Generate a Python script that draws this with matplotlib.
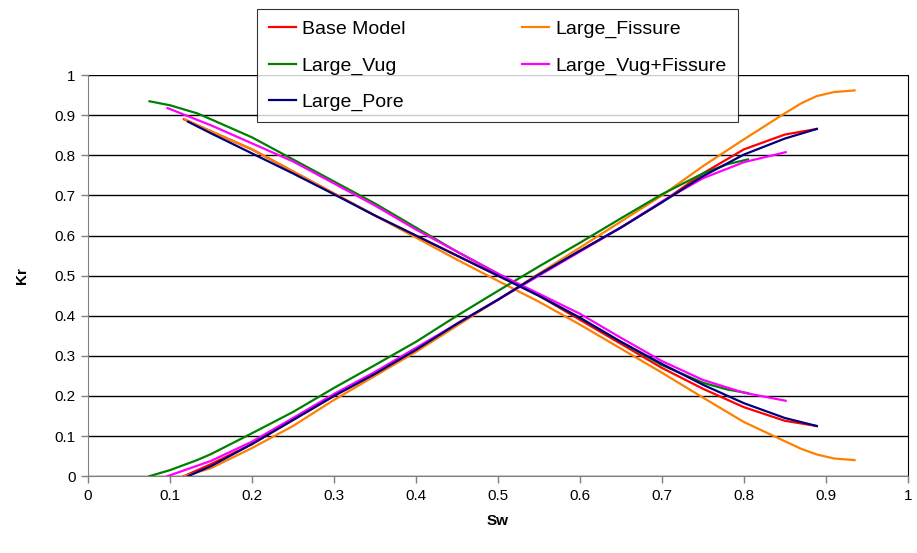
import matplotlib
matplotlib.use("Agg")
import matplotlib.pyplot as plt

plt.rcParams['font.family'] = ['Liberation Sans', 'DejaVu Sans']

# Base Model
sw_base = [0.117, 0.15, 0.2, 0.25, 0.3, 0.35, 0.4, 0.45, 0.5, 0.55, 0.6, 0.65, 0.7, 0.75, 0.8, 0.85, 0.889]
krw_base = [0, 0.03, 0.08, 0.14, 0.2, 0.255, 0.315, 0.38, 0.44, 0.503, 0.562, 0.62, 0.683, 0.755, 0.815, 0.852, 0.866]
kro_base = [0.89, 0.86, 0.815, 0.76, 0.705, 0.65, 0.6, 0.55, 0.5, 0.45, 0.39, 0.33, 0.27, 0.218, 0.172, 0.138, 0.125]

# Large_Fissure
sw_fis = [0.118, 0.15, 0.2, 0.25, 0.3, 0.35, 0.4, 0.45, 0.5, 0.55, 0.6, 0.65, 0.7, 0.75, 0.8, 0.85, 0.87, 0.889, 0.91, 0.935]
krw_fis = [0, 0.02, 0.07, 0.125, 0.19, 0.25, 0.31, 0.375, 0.44, 0.505, 0.57, 0.635, 0.7, 0.773, 0.84, 0.905, 0.93, 0.948, 0.958, 0.962]
kro_fis = [0.89, 0.86, 0.815, 0.76, 0.705, 0.65, 0.595, 0.54, 0.487, 0.435, 0.378, 0.318, 0.258, 0.196, 0.135, 0.087, 0.068, 0.054, 0.044, 0.04]

# Large_Vug
sw_vug = [0.075, 0.1, 0.133, 0.15, 0.2, 0.25, 0.3, 0.35, 0.4, 0.45, 0.5, 0.55, 0.6, 0.65, 0.7, 0.75, 0.78, 0.805]
krw_vug = [0, 0.015, 0.04, 0.055, 0.107, 0.16, 0.22, 0.277, 0.335, 0.4, 0.462, 0.523, 0.582, 0.643, 0.703, 0.755, 0.778, 0.79]
kro_vug = [0.935, 0.925, 0.905, 0.89, 0.845, 0.79, 0.735, 0.68, 0.62, 0.56, 0.505, 0.45, 0.395, 0.335, 0.277, 0.233, 0.216, 0.207]

# Large_Vug+Fissure
sw_vf = [0.097, 0.15, 0.2, 0.25, 0.3, 0.35, 0.4, 0.45, 0.5, 0.55, 0.6, 0.65, 0.7, 0.75, 0.8, 0.851]
krw_vf = [0, 0.038, 0.086, 0.145, 0.205, 0.26, 0.32, 0.38, 0.44, 0.5, 0.56, 0.62, 0.685, 0.743, 0.783, 0.808]
kro_vf = [0.918, 0.875, 0.83, 0.785, 0.73, 0.675, 0.615, 0.56, 0.505, 0.455, 0.405, 0.345, 0.287, 0.24, 0.208, 0.188]

# Large_Pore
sw_pore = [0.122, 0.15, 0.2, 0.25, 0.3, 0.35, 0.4, 0.45, 0.5, 0.55, 0.6, 0.65, 0.7, 0.75, 0.8, 0.85, 0.889]
krw_pore = [0, 0.025, 0.08, 0.14, 0.2, 0.255, 0.315, 0.38, 0.44, 0.503, 0.562, 0.62, 0.683, 0.748, 0.802, 0.842, 0.866]
kro_pore = [0.884, 0.855, 0.805, 0.755, 0.703, 0.65, 0.6, 0.55, 0.5, 0.45, 0.395, 0.335, 0.28, 0.228, 0.182, 0.145, 0.125]

ticks = [0, 0.1, 0.2, 0.3, 0.4, 0.5, 0.6, 0.7, 0.8, 0.9, 1]
tick_labels = ['0', '0.1', '0.2', '0.3', '0.4', '0.5', '0.6', '0.7', '0.8', '0.9', '1']

fig = plt.figure(figsize=(9.17, 5.53), dpi=100)
ax = fig.add_axes([0.096, 0.139, 0.894, 0.725])

series = [
    ("Base Model", sw_base, krw_base, kro_base, "#ff0000"),
    ("Large_Vug", sw_vug, krw_vug, kro_vug, "#008000"),
    ("Large_Pore", sw_pore, krw_pore, kro_pore, "#000080"),
    ("Large_Fissure", sw_fis, krw_fis, kro_fis, "#ff8000"),
    ("Large_Vug+Fissure", sw_vf, krw_vf, kro_vf, "#ff00ff"),
]
# excel drawing order: base, fissure, vug, v+f, pore
order = [0, 3, 1, 4, 2]
handles = {}
for i in order:
    name, sw, krw, kro, c = series[i]
    h, = ax.plot(sw, krw, color=c, lw=1.6, label=name)
    ax.plot(sw, kro, color=c, lw=1.6)
    handles[i] = h

ax.set_xlim(0, 1)
ax.set_ylim(0, 1)
ax.set_xticks(ticks)
ax.set_xticklabels(tick_labels)
ax.set_yticks(ticks)
ax.set_yticklabels(tick_labels)
ax.tick_params(direction='out', length=5, width=1, colors='#808080', labelcolor='black', labelsize=11, pad=4)
ax.yaxis.grid(True, color='black', lw=1)
ax.set_axisbelow(True)
for s in ['left', 'bottom']:
    ax.spines[s].set_color('#808080')
ax.spines['right'].set_color('black')
ax.spines['top'].set_visible(False)

ax.set_xlabel('Sw', fontsize=11, fontweight='bold', labelpad=8)
ax.set_ylabel('Kr', fontsize=11, fontweight='bold', labelpad=18)

leg = fig.legend([handles[i] for i in range(5)], [series[i][0] for i in range(5)],
                 ncol=2, loc='upper left', bbox_to_anchor=(257 / 917, 1 - 9 / 553),
                 frameon=True, fancybox=False, edgecolor='black', fontsize=14,
                 handlelength=1.4, handletextpad=0.3, columnspacing=6.0,
                 labelspacing=0.95, borderpad=0.6, borderaxespad=0)
leg.get_frame().set_linewidth(0.8)

fig.savefig('out.png', dpi=100)
